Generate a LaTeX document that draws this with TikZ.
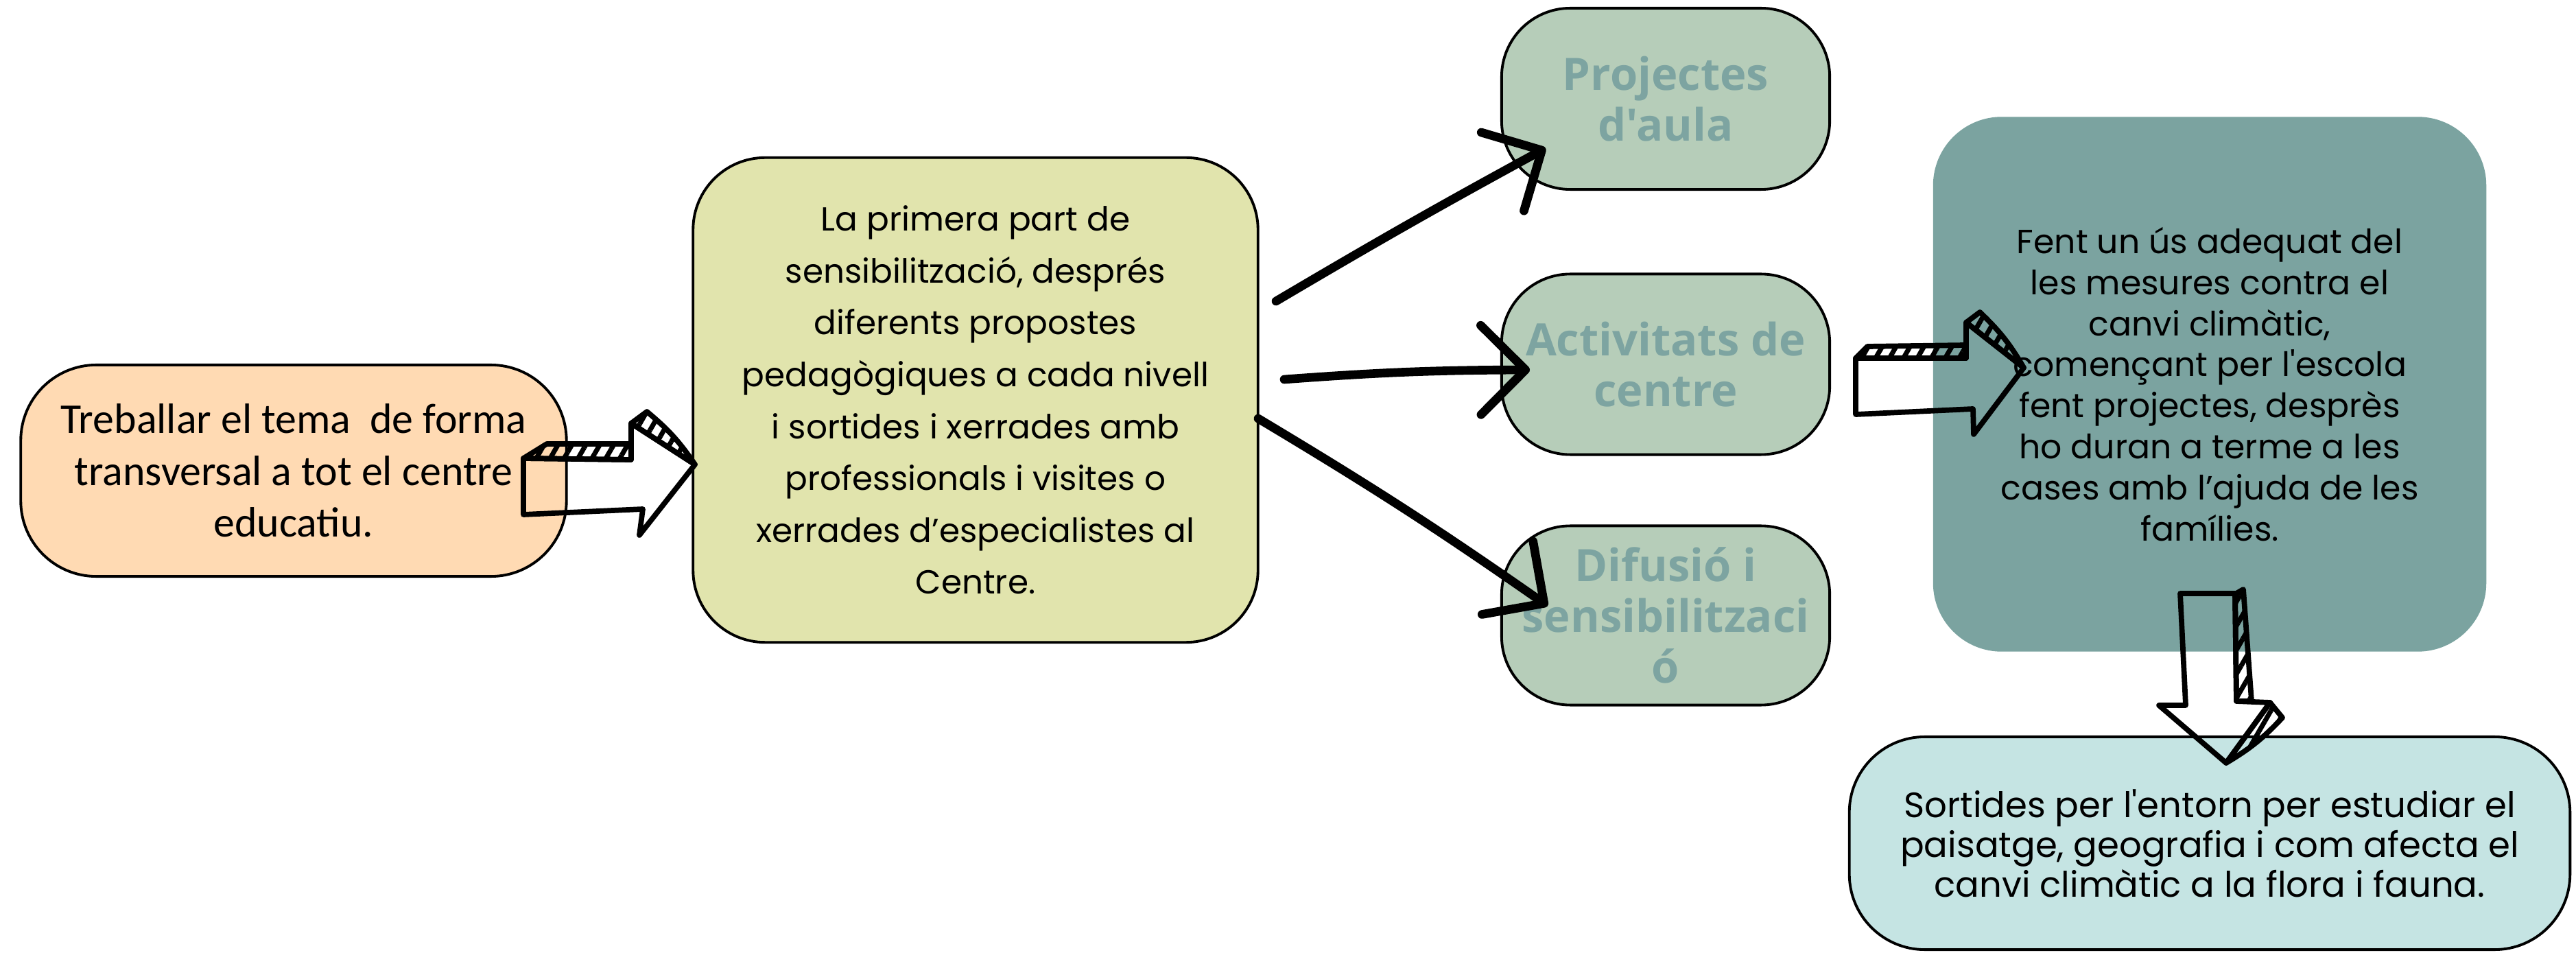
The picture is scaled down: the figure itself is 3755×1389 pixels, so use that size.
\documentclass[tikz,border=0pt]{standalone}
\usepackage{fontspec}
\setmainfont{Poppins}[Ligatures=TeXOff]
\newfontfamily\carlitofont{Carlito}
\newfontfamily\headfont{Open Sans}
\usetikzlibrary{positioning}
\usetikzlibrary{arrows.meta}
\usetikzlibrary{patterns.meta}

\definecolor{peach}{RGB}{255,218,179}
\definecolor{lime}{RGB}{225,228,173}
\definecolor{sage}{RGB}{182,205,185}
\definecolor{sagetext}{RGB}{125,164,161}
\definecolor{teal}{RGB}{123,163,160}
\definecolor{aqua}{RGB}{197,228,227}

\begin{document}
\begin{tikzpicture}[
    x=0.01cm, y=-0.01cm,
    roundbox/.style={draw=black, line width=1.1pt, rounded corners=1cm, align=center, inner sep=0pt},
    bodytext/.style={font=\fontsize{13.8}{21.5}\selectfont},
    headtext/.style={font=\headfont\bfseries\fontsize{18.5}{21}\selectfont, text=sagetext},
    sketch/.style={line width=3.6pt, line cap=round, -{Straight Barb[length=0.65cm, width=1.3cm, round]}},
    blockline/.style={line width=2.2pt, line join=round, line cap=round},
    hatch/.style={blockline, pattern={Lines[angle=60, distance=5pt, line width=2pt]}},
]
    \useasboundingbox (0,0) rectangle (3755,1389);

    % Start
    \node (treballar) at (428,686) [roundbox, fill=peach, minimum width=7.95cm, minimum height=3.08cm, rounded corners=1.1cm,
        font=\carlitofont\fontsize{17.6}{21.5}\selectfont]
        {Treballar el tema\ \ de forma\\ transversal a tot el centre\\ educatiu.};

    % Sensibilitzacio
    \node (sensib) at (1422,583) [roundbox, fill=lime, minimum width=8.23cm, minimum height=7.06cm, rounded corners=1.05cm, bodytext]
        {La primera part de\\ sensibilització, després\\ diferents propostes\\ pedagògiques a cada nivell\\
         i sortides i xerrades amb\\ professionals i visites o\\ xerrades d’especialistes al\\ Centre.};

    % Three lines of work
    \node (projectes) at (2428,144) [roundbox, fill=sage, minimum width=4.78cm, minimum height=2.64cm, headtext]
        {Projectes\\ d'aula};
    \node (activitats) at (2428,531) [roundbox, fill=sage, minimum width=4.78cm, minimum height=2.63cm, headtext]
        {Activitats de\\ centre};
    \node (difusio) at (2428,897) [roundbox, fill=sage, minimum width=4.78cm, minimum height=2.61cm, headtext]
        {Difusió i\\ sensibilitzaci\\ ó};

    % Mesures
    \node (mesures) at (3221,560) [roundbox, draw=none, fill=teal, minimum width=8.06cm, minimum height=7.79cm,
        font=\fontsize{13.9}{17}\selectfont]
        {Fent un ús adequat del\\ les mesures contra el\\ canvi climàtic,\\ començant per l'escola\\
         fent projectes, desprès\\ ho duran a terme a les\\ cases amb l’ajuda de les\\ famílies.};

    % Sortides
    \node (sortides) at (3221,1229) [roundbox, fill=aqua, minimum width=10.5cm, minimum height=3.1cm, rounded corners=1.1cm,
        font=\fontsize{14.6}{16.5}\selectfont]
        {Sortides per l'entorn per estudiar el\\ paisatge, geografia i com afecta el\\ canvi climàtic a la flora i fauna.};

    % Sketched arrows from sensib
    \coordinate (proj_tail) at (1860,439);
    \coordinate (proj_tip) at (2253,216);
    \coordinate (act_tail) at (1872,553);
    \coordinate (act_tip) at (2230,539);
    \coordinate (dif_tail) at (1834,610);
    \coordinate (dif_tip) at (2256,883);
    \draw [sketch] (proj_tail) to[bend left=1] (proj_tip);
    \draw [sketch] (act_tail) to[bend left=2] (act_tip);
    \draw [sketch] (dif_tail) to[bend left=2] (dif_tip);

    % Block arrow treballar -> sensib
    \draw [hatch] (763,668) -- (797,647) -- (920,647) -- (920,670) -- cycle;
    \draw [hatch] (920,617) -- (943,600) to[bend left=8] (1013,677) -- cycle;
    \draw [blockline] (763,668) -- (920,670) -- (920,617) -- (1013,677) -- (932,780) -- (937,742) -- (763,750) -- cycle;

    % Block arrow activitats -> mesures
    \draw [hatch] (2705,522) -- (2722,505) -- (2866,503) -- (2866,522) -- cycle;
    \draw [hatch] (2866,470) -- (2886,455) to[bend left=8] (2950,536) -- cycle;
    \draw [blockline] (2705,522) -- (2866,522) -- (2866,470) -- (2950,536) -- (2877,633) -- (2876,596) -- (2705,604) -- cycle;

    % Block arrow mesures -> sortides
    \draw [hatch] (3258,866) -- (3270,859) -- (3282,1022) -- (3260,1022) -- cycle;
    \draw [hatch] (3309,1024) -- (3327,1046) to[bend left=8] (3245,1112) -- cycle;
    \draw [blockline] (3178,865) -- (3258,865) -- (3260,1022) -- (3309,1024) -- (3245,1112) -- (3147,1028) -- (3186,1028) -- cycle;

\end{tikzpicture}
\end{document}
